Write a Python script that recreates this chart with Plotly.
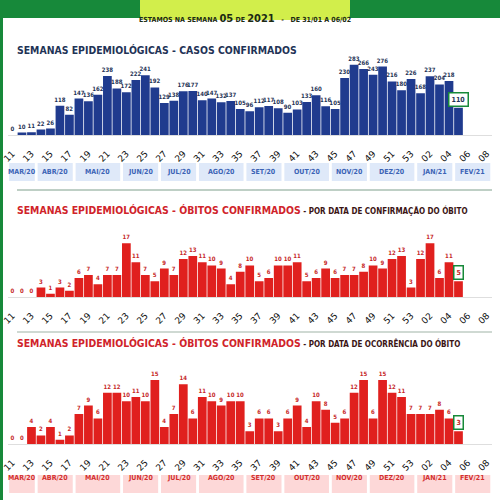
import plotly.graph_objects as go

# ---------------- data ----------------
weeks = ["11", "12", "13", "14", "15", "16", "17", "18", "19", "20", "21", "22", "23", "24", "25",
         "26", "27", "28", "29", "30", "31", "32", "33", "34", "35", "36", "37", "38", "39", "40",
         "41", "42", "43", "44", "45", "46", "47", "48", "49", "50", "51", "52", "53",
         "01", "02", "03", "04", "05", "06", "07", "08"]
tick_labels = ["11", "13", "15", "17", "19", "21", "23", "25", "27", "29", "31", "33", "35", "37",
               "39", "41", "43", "45", "47", "49", "51", "53", "02", "04", "06", "08"]

casos = [0, 10, 11, 22, 26, 118, 82, 147, 136, 162,
         238, 188, 172, 222, 241, 192, 129, 138, 176, 177,
         140, 147, 132, 137, 105, 96, 112, 117, 108, 90,
         103, 133, 160, 116, 105, 230, 283, 266, 243, 276,
         216, 180, 226, 168, 237, 204, 218, 110]
obitos_confirmacao = [0, 0, 0, 3, 1, 3, 2, 6, 7, 4,
                      7, 7, 17, 11, 7, 5, 9, 7, 12, 13,
                      11, 10, 9, 4, 8, 10, 5, 6, 10, 10,
                      11, 5, 6, 9, 6, 7, 7, 8, 10, 9,
                      12, 13, 3, 12, 17, 6, 11, 5]
obitos_ocorrencia = [0, 0, 4, 2, 4, 1, 2, 7, 9, 6,
                     12, 12, 10, 11, 10, 15, 4, 7, 14, 6,
                     11, 10, 9, 10, 10, 3, 6, 6, 3, 6,
                     9, 4, 10, 8, 5, 6, 12, 15, 6, 15,
                     12, 11, 7, 7, 7, 8, 6, 3]

months = ["MAR/20", "ABR/20", "MAI/20", "JUN/20", "JUL/20", "AGO/20",
          "SET/20", "OUT/20", "NOV/20", "DEZ/20", "JAN/21", "FEV/21"]
month_weeks = [3, 4, 5, 4, 4, 5, 4, 5, 4, 5, 4, 4]

title_casos = "SEMANAS EPIDEMIOLÓGICAS - CASOS CONFIRMADOS"
title_obitos = "SEMANAS EPIDEMIOLÓGICAS - ÓBITOS CONFIRMADOS"
sub_conf = " - POR DATA DE CONFIRMAÇÃO DO ÓBITO"
sub_ocor = " - POR DATA DE OCORRÊNCIA DO ÓBITO"
header_parts = ["ESTAMOS NA SEMANA", "05", "DE", "2021", "-", "DE 31/01 A 06/02"]

# ---------------- style ----------------
W, H = 500, 500
COND = "DejaVu Sans Condensed, DejaVu Sans, sans-serif"
GREEN = "#17893a"
NAVY_BAR = "#203b8e"
NAVY_TXT = "#1f3356"
RED_BAR = "#e0201e"
RED_TXT = "#d0232a"
DARK_SUB = "#3b1414"


def px(x):
    return x / W


def py(y):
    return 1 - y / H


xdom = [px(7.75), px(491.7)]

fig = go.Figure()

panels = [
    dict(vals=casos, color=NAVY_BAR, tcolor=NAVY_TXT, base=135, top=60, scale=0.248, ax=""),
    dict(vals=obitos_confirmacao, color=RED_BAR, tcolor="#c62828", base=297, top=230, scale=3.16, ax="2"),
    dict(vals=obitos_ocorrencia, color=RED_BAR, tcolor="#c62828", base=444, top=370, scale=4.27, ax="3"),
]

annotations = []
shapes = []

for p in panels:
    vals = p["vals"]
    n = len(vals)
    texts = [str(v) for v in vals[:-1]] + [""]
    fig.add_trace(go.Bar(
        x=weeks[:n], y=vals, xaxis="x" + p["ax"], yaxis="y" + p["ax"],
        marker=dict(color=p["color"], line=dict(width=0)),
        text=texts, textposition="outside", constraintext="none", cliponaxis=False,
        textfont=dict(family=COND, size=6, color=p["tcolor"], weight="bold"),
        hoverinfo="skip", showlegend=False,
    ))
    yr = (p["base"] - p["top"]) / p["scale"]
    fig.update_layout(**{
        "xaxis" + p["ax"]: dict(
            type="category", categoryorder="array", categoryarray=weeks,
            range=[-0.5, len(weeks) - 0.5], domain=xdom, anchor="y" + p["ax"],
            tickmode="array", tickvals=tick_labels, ticktext=tick_labels,
            tickangle=-45, tickfont=dict(family="DejaVu Sans", size=9, color="#111111"),
            showline=True, linecolor="#dedede", linewidth=1, showgrid=False, zeroline=False,
            ticks="outside", ticklen=9, tickcolor="rgba(0,0,0,0)",
            automargin=False, fixedrange=True,
        ),
        "yaxis" + p["ax"]: dict(
            range=[0, yr], domain=[py(p["base"]), py(p["top"])], anchor="x" + p["ax"],
            visible=False, fixedrange=True, automargin=False,
        ),
    })
    # boxed label for the current week
    annotations.append(dict(
        x=n - 1, y=vals[-1], xref="x" + p["ax"], yref="y" + p["ax"],
        text="<b>%d</b>" % vals[-1], showarrow=False, yanchor="bottom", yshift=1,
        font=dict(family=COND, size=7, color=p["tcolor"]),
        bordercolor=GREEN, borderwidth=1.5, borderpad=2, bgcolor="white",
    ))

# month bands
for ax, y0, y1, fill, tc in [("", 163, 181, "#dfe9f9", "#3b63b5"), ("3", 475, 493, "#fdd8d8", "#d32f2f")]:
    start = 0
    for m, nw in zip(months, month_weeks):
        shapes.append(dict(type="rect", xref="x" + ax, yref="paper",
                           x0=start - 0.5 + 0.15, x1=start + nw - 0.5 - 0.15,
                           y0=py(y1), y1=py(y0), fillcolor=fill, line=dict(width=0), layer="below"))
        annotations.append(dict(x=start + (nw - 1) / 2, y=py((y0 + y1) / 2), xref="x" + ax, yref="paper",
                                text="<b>%s</b>" % m, showarrow=False,
                                font=dict(family=COND, size=7, color=tc)))
        start += nw

# header band, badge, left border, separators
shapes += [
    dict(type="rect", xref="paper", yref="paper", x0=0, x1=1, y0=py(18), y1=1,
         fillcolor=GREEN, line=dict(width=0), layer="below"),
    dict(type="rect", xref="paper", yref="paper", x0=0, x1=px(3), y0=0, y1=py(18),
         fillcolor=GREEN, line=dict(width=0), layer="below"),
    dict(type="path", xref="paper", yref="paper",
         path="M %f,%f L %f,%f L %f,%f Q %f,%f %f,%f L %f,%f Q %f,%f %f,%f Z" % (
             px(140), py(0), px(350), py(0), px(350), py(14), px(350), py(20), px(344), py(20),
             px(146), py(20), px(140), py(20), px(140), py(14)),
         fillcolor="#d2ee4b", line=dict(width=0), layer="below"),
    dict(type="line", xref="paper", yref="paper", x0=px(17), x1=px(492), y0=py(190), y1=py(190),
         line=dict(color="#7f9f8c", width=1)),
    dict(type="line", xref="paper", yref="paper", x0=px(17), x1=px(492), y0=py(332), y1=py(332),
         line=dict(color="#9fb3a6", width=1)),
]

hp = header_parts
header_text = ("<b><span style='font-size:7px'>%s </span><span style='font-size:11px'>%s</span>"
               "<span style='font-size:7px'> %s </span><span style='font-size:11px'>%s</span>"
               "<span style='font-size:7px'>   %s   %s</span></b>") % tuple(hp)
annotations.append(dict(x=px(245), y=py(9.5), xref="paper", yref="paper", text=header_text,
                        showarrow=False, font=dict(family=COND, size=7, color="#1b2a14")))

annotations.append(dict(x=px(15), y=py(42), xref="paper", yref="paper", xanchor="left",
                        text="<b>%s</b>" % title_casos, showarrow=False,
                        font=dict(family=COND, size=10.4, color=NAVY_TXT)))
for yc, sub in [(210, sub_conf), (351, sub_ocor)]:
    annotations.append(dict(
        x=px(15), y=py(yc), xref="paper", yref="paper", xanchor="left", showarrow=False,
        text="<b>%s</b><span style='font-size:8px;color:%s'><b>%s</b></span>" % (title_obitos, DARK_SUB, sub),
        font=dict(family=COND, size=10.4, color=RED_TXT)))

fig.update_layout(
    width=W, height=H, margin=dict(l=0, r=0, t=0, b=0, autoexpand=False),
    paper_bgcolor="white", plot_bgcolor="rgba(0,0,0,0)",
    bargap=0.08, showlegend=False,
    shapes=shapes, annotations=annotations,
)

fig.write_html("out.html", config={"displayModeBar": False},
               post_script="document.body.style.margin='0';document.body.style.overflow='hidden';")
